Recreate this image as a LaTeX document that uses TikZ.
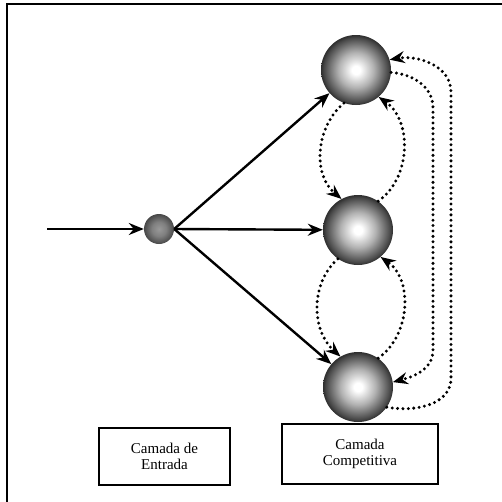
\documentclass[tikz,border=0pt]{standalone}
\usepackage{fontspec}
\setmainfont{Liberation Serif}
\usetikzlibrary{arrows.meta}
\pgfdeclareradialshading{sphshade}{\pgfpoint{0bp}{0bp}}{color(0bp)=(white); color(3bp)=(white); color(8bp)=(black!16); color(12.5bp)=(black!30); color(18.5bp)=(black!54); color(23bp)=(black!72); color(25bp)=(black!82); color(50bp)=(black!82)}
\pgfdeclareradialshading{smallshade}{\pgfpoint{0bp}{0bp}}{color(0bp)=(black!40); color(12bp)=(black!50); color(25bp)=(black!72); color(50bp)=(black!72)}
\tikzset{
  sphere/.style={circle, minimum size=70pt, inner sep=0pt, shading=sphshade},
  smallball/.style={circle, minimum size=30pt, inner sep=0pt, shading=smallshade},
  solidarrow/.style={line width=2.4pt, -{Stealth[length=15pt,width=12pt,inset=5pt]}},
  dotarrow/.style={line width=3.3pt, line cap=round, dash pattern=on 0pt off 5.4pt, -{Stealth[length=15pt,width=12pt,inset=5pt]}},
  labelbox/.style={draw, line width=1.2pt, align=center, font=\fontsize{15}{16.5}\selectfont}
}
\begin{document}
\begin{tikzpicture}[x=1pt,y=-1pt]
\useasboundingbox (0,0) rectangle (502,501);
% frame
\draw[line width=2.6pt] (7,505) -- (7,4) -- (505,4);
% nodes
\node[smallball] (in) at (159,229) {};
\node[sphere] (s1) at (356,70) {};
\node[sphere] (s2) at (358,230) {};
\node[sphere] (s3) at (358,387) {};
\coordinate (src) at (47,229);
% solid arrows
\draw[solidarrow] (src) -- (in.west);
\draw[solidarrow] (in.east) -- (s1);
\draw[solidarrow] (in.east) -- (s2);
\draw[solidarrow] (in.east) -- (s3);
% dotted arcs between neighbours
\draw[dotarrow] (s1.250) to[out=220,in=140] (s2.118);
\draw[dotarrow] (s2.55) to[out=35,in=-35] (s1.-50);
\draw[dotarrow] (s2.235) to[out=222,in=138] (s3.120);
\draw[dotarrow] (s3.55) to[out=35,in=-35] (s2.-50);
% long loops
\coordinate (a1) at (433,108);
\coordinate (a2) at (433,350);
\draw[dotarrow] (s1.-4) to[out=-4,in=90] (a1) -- (a2) to[out=-90,in=15] (s3.8);
\coordinate (b1) at (451,92);
\coordinate (b2) at (451,378);
\draw[dotarrow] (s3.-35) to[out=-10,in=-90] (b2) -- (b1) to[out=90,in=10] (s1.17);
% label boxes
\node[labelbox, minimum width=131pt, minimum height=57pt] (lbin) at (164.5,456.5) {Camada de\\Entrada};
\node[labelbox, minimum width=156pt, minimum height=60pt] (lbcomp) at (360,454) {Camada\\Competitiva};
\end{tikzpicture}
\end{document}
